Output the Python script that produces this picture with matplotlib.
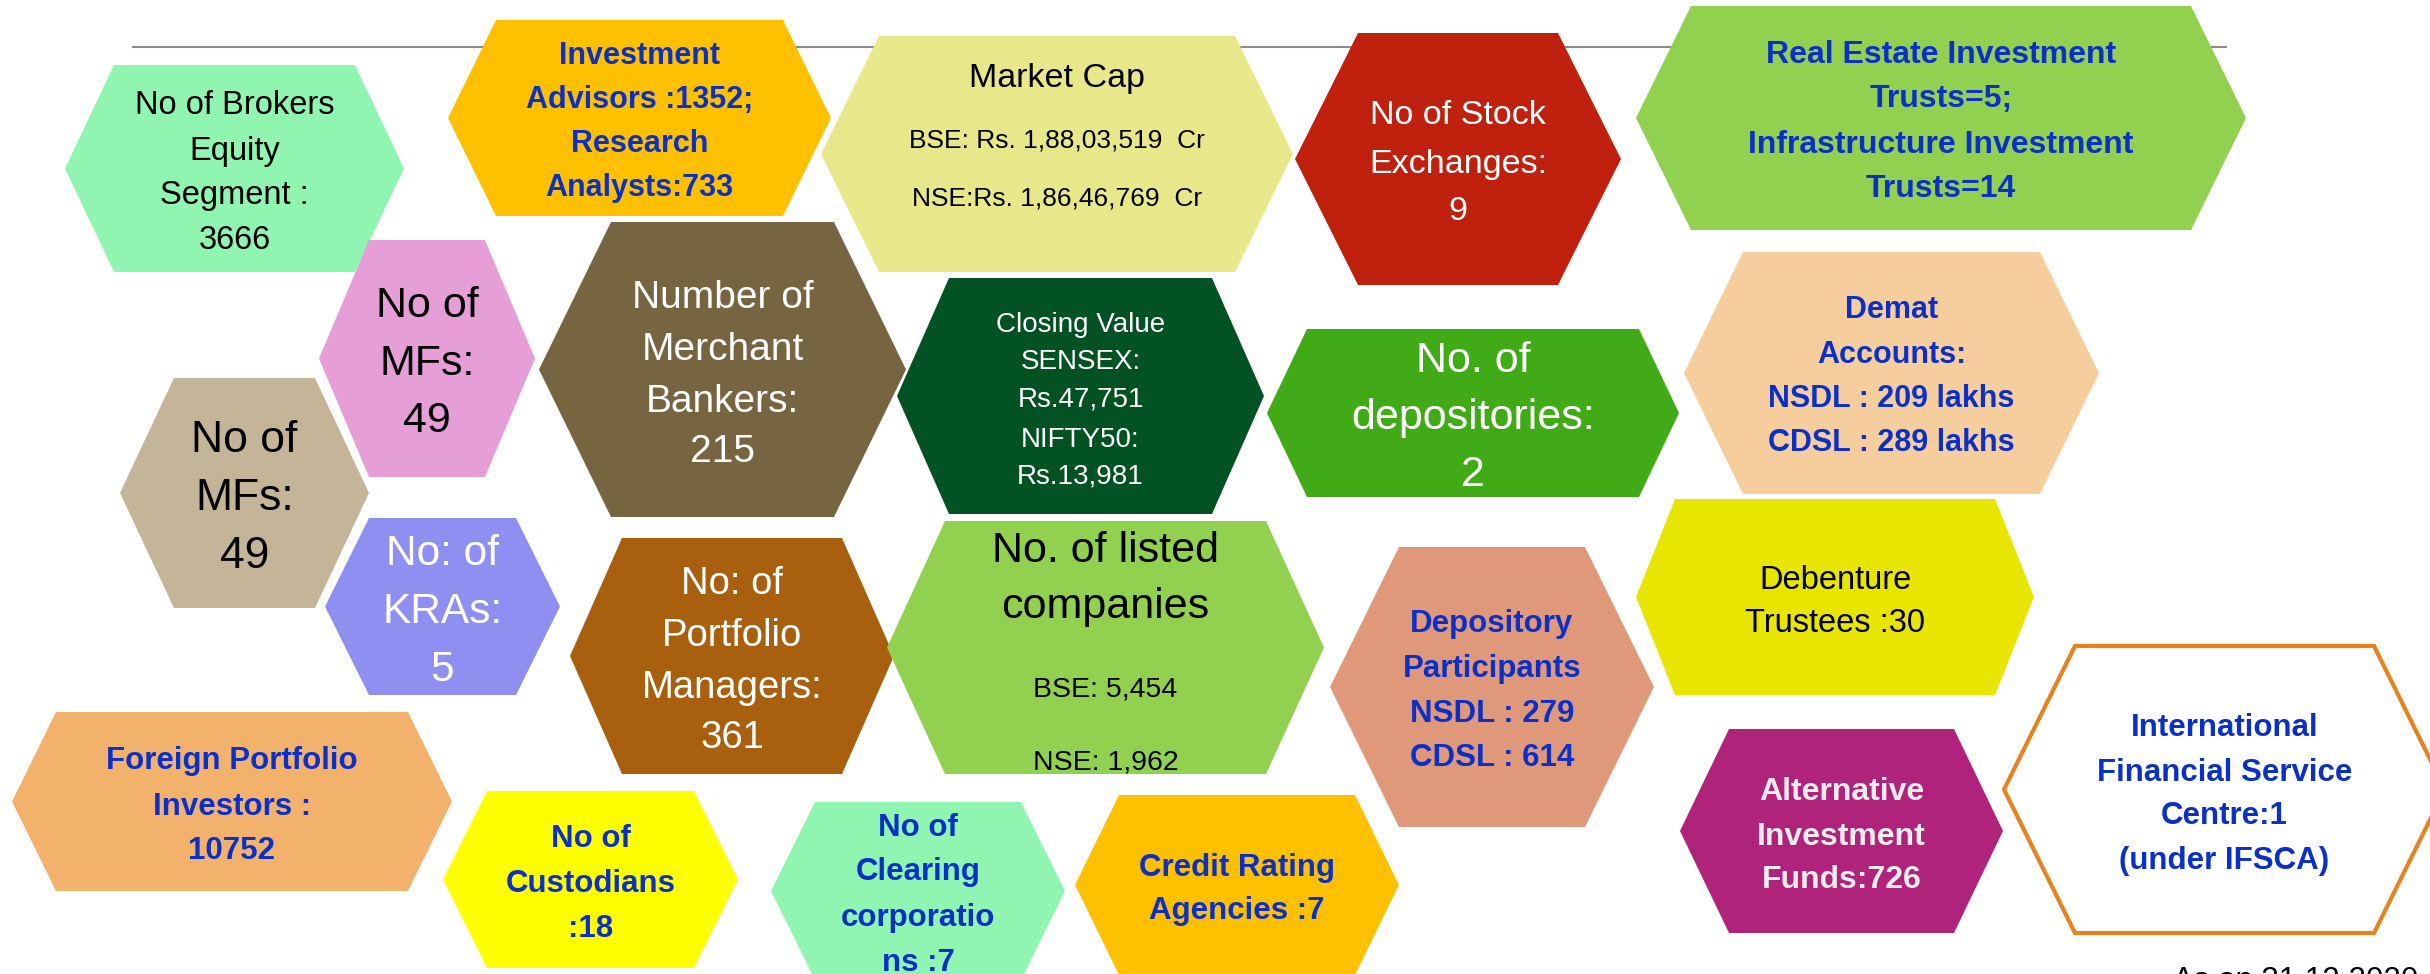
import matplotlib
matplotlib.use("Agg")
import matplotlib.pyplot as plt
from matplotlib.patches import Polygon

plt.rcParams['font.family'] = ['Liberation Sans', 'DejaVu Sans']

# ── Content ───────────────────────────────────────────────────────────────────
LABELS = [
    ["No of Brokers", "Equity", "Segment :", "3666"],
    ["Investment", "Advisors :1352;", "Research", "Analysts:733"],
    ["Market Cap", "BSE: Rs. 1,88,03,519  Cr", "NSE:Rs. 1,86,46,769  Cr"],
    ["No of Stock", "Exchanges:", "9"],
    ["Real Estate Investment", "Trusts=5;", "Infrastructure Investment", "Trusts=14"],
    ["No of", "MFs:", "49"],
    ["Number of", "Merchant", "Bankers:", "215"],
    ["Closing Value", "SENSEX:", "Rs.47,751", "NIFTY50:", "Rs.13,981"],
    ["No. of", "depositories:", "2"],
    ["Demat", "Accounts:", "NSDL : 209 lakhs", "CDSL : 289 lakhs"],
    ["No of", "MFs:", "49"],
    ["No: of", "KRAs:", "5"],
    ["No: of", "Portfolio", "Managers:", "361"],
    ["No. of listed", "companies", "BSE: 5,454", "NSE: 1,962"],
    ["Depository", "Participants", "NSDL : 279", "CDSL : 614"],
    ["Debenture", "Trustees :30"],
    ["Foreign Portfolio", "Investors :", "10752"],
    ["No of", "Custodians", ":18"],
    ["No of", "Clearing", "corporatio", "ns :7"],
    ["Credit Rating", "Agencies :7"],
    ["Alternative", "Investment", "Funds:726"],
    ["International", "Financial Service", "Centre:1", "(under IFSCA)"],
]
FOOTNOTE = "As on 31.12.2020"

# ── Layout (pixel coordinates, y down) ────────────────────────────────────────
# left x, right x, top y, bottom y, slant inset
HEX = [
    (65, 404, 65, 272, 49),
    (448, 831, 20, 216, 48),
    (821, 1293, 36, 272, 58),
    (1295, 1621, 33, 285, 63),
    (1636, 2246, 6, 230, 55),
    (319, 535, 240, 477, 50),
    (539, 906, 222, 517, 72),
    (897, 1264, 278, 514, 52),
    (1267, 1679, 329, 497, 40),
    (1684, 2099, 252, 494, 59),
    (120, 369, 378, 608, 54),
    (325, 560, 518, 695, 44),
    (570, 894, 538, 774, 52),
    (887, 1324, 521, 774, 58),
    (1330, 1654, 547, 827, 69),
    (1636, 2034, 499, 695, 39),
    (12, 452, 712, 891, 44),
    (443, 738, 791, 968, 44),
    (771, 1065, 802, 980, 44),
    (1075, 1399, 795, 975, 44),
    (1680, 2003, 729, 933, 49),
    (2004, 2445, 646, 933, 71),
]
FILL = ['#8FF5B0', '#FFC000', '#E8E88A', '#C0200E', '#92D050', '#E59ED6',
        '#776441', '#035223', '#41AB17', '#F6CE9E', '#C4B498', '#8F8FF2',
        '#A8600F', '#92D050', '#E0987A', '#E8E600', '#F2B26C', '#FFFF00',
        '#8FF5B0', '#FFC000', '#B0237A', 'white']

BLUE = '#0B30C8'
TEXT_COLOR = ['black', BLUE, 'black', 'white', BLUE, 'black', 'white', 'white',
              'white', BLUE, 'black', 'white', 'white', 'black', BLUE, 'black',
              BLUE, BLUE, BLUE, BLUE, '#F2ECEC', BLUE]
BOLD = [False, True, False, False, True, False, False, False, False, True,
        False, False, False, False, True, False, True, True, True, True, True, True]
# cap-centre y of each line
LINE_Y = [
    [102, 148, 192, 237],
    [53, 97, 141, 185],
    [75, 138, 196],
    [112, 161, 208],
    [52, 96, 142, 186],
    [302, 360, 417],
    [294, 346, 398, 448],
    [322, 359, 397, 437, 474],
    [357, 414, 471],
    [307, 352, 396, 440],
    [436, 494, 552],
    [550, 608, 666],
    [580, 632, 684, 734],
    [547, 603, 686, 759],
    [621, 666, 711, 755],
    [577, 620],
    [758, 804, 848],
    [836, 881, 926],
    [825, 869, 915, 960],
    [865, 908],
    [789, 834, 877],
    [725, 770, 813, 858],
]
SIZES = [
    [23.5] * 4,
    [22] * 4,
    [24.5, 19, 19],
    [24.5] * 3,
    [23] * 4,
    [31] * 3,
    [28] * 4,
    [20] * 5,
    [31] * 3,
    [22] * 4,
    [32] * 3,
    [30.5] * 3,
    [27.5] * 4,
    [31, 31, 20.5, 20.5],
    [22.5] * 4,
    [23.5] * 2,
    [22.5] * 3,
    [22.5] * 3,
    [22.5] * 4,
    [22.5] * 2,
    [23] * 3,
    [22.5] * 4,
]

W, H = 2430, 974
DPI = 100
PT2PX = DPI / 72.0
CAP = 0.716  # cap height / em for Liberation Sans

fig = plt.figure(figsize=(W / DPI, H / DPI), dpi=DPI)
ax = fig.add_axes([0, 0, 1, 1])
ax.set_xlim(0, W)
ax.set_ylim(H, 0)
ax.axis('off')

# grey rule behind the shapes
ax.plot([133, 2226], [47, 47], color='#8C8C8C', lw=1.5, zorder=1)

for (xl, xr, yt, yb, d), fc, lines, ys, sz, tc, bold in zip(
        HEX, FILL, LABELS, LINE_Y, SIZES, TEXT_COLOR, BOLD):
    ym = (yt + yb) / 2
    pts = [(xl, ym), (xl + d, yt), (xr - d, yt), (xr, ym), (xr - d, yb), (xl + d, yb)]
    if fc == 'white':
        poly = Polygon(pts, closed=True, facecolor='white', edgecolor='#E8821E',
                       lw=3, zorder=2)
    else:
        poly = Polygon(pts, closed=True, facecolor=fc, edgecolor='none', zorder=2)
    ax.add_patch(poly)
    xc = (xl + xr) / 2
    for txt, y, s in zip(lines, ys, sz):
        ax.text(xc, y + CAP * s * PT2PX / 2, txt, ha='center', va='baseline',
                fontsize=s, color=tc, fontweight='bold' if bold else 'normal',
                zorder=3)

# footnote sits at the bottom edge, mostly below the frame as in the source
ax.text(2173, 967 + CAP * 22.5 * PT2PX, FOOTNOTE, ha='left', va='baseline',
        fontsize=22.5, color='black', zorder=3)

fig.savefig('out.png', dpi=DPI)
